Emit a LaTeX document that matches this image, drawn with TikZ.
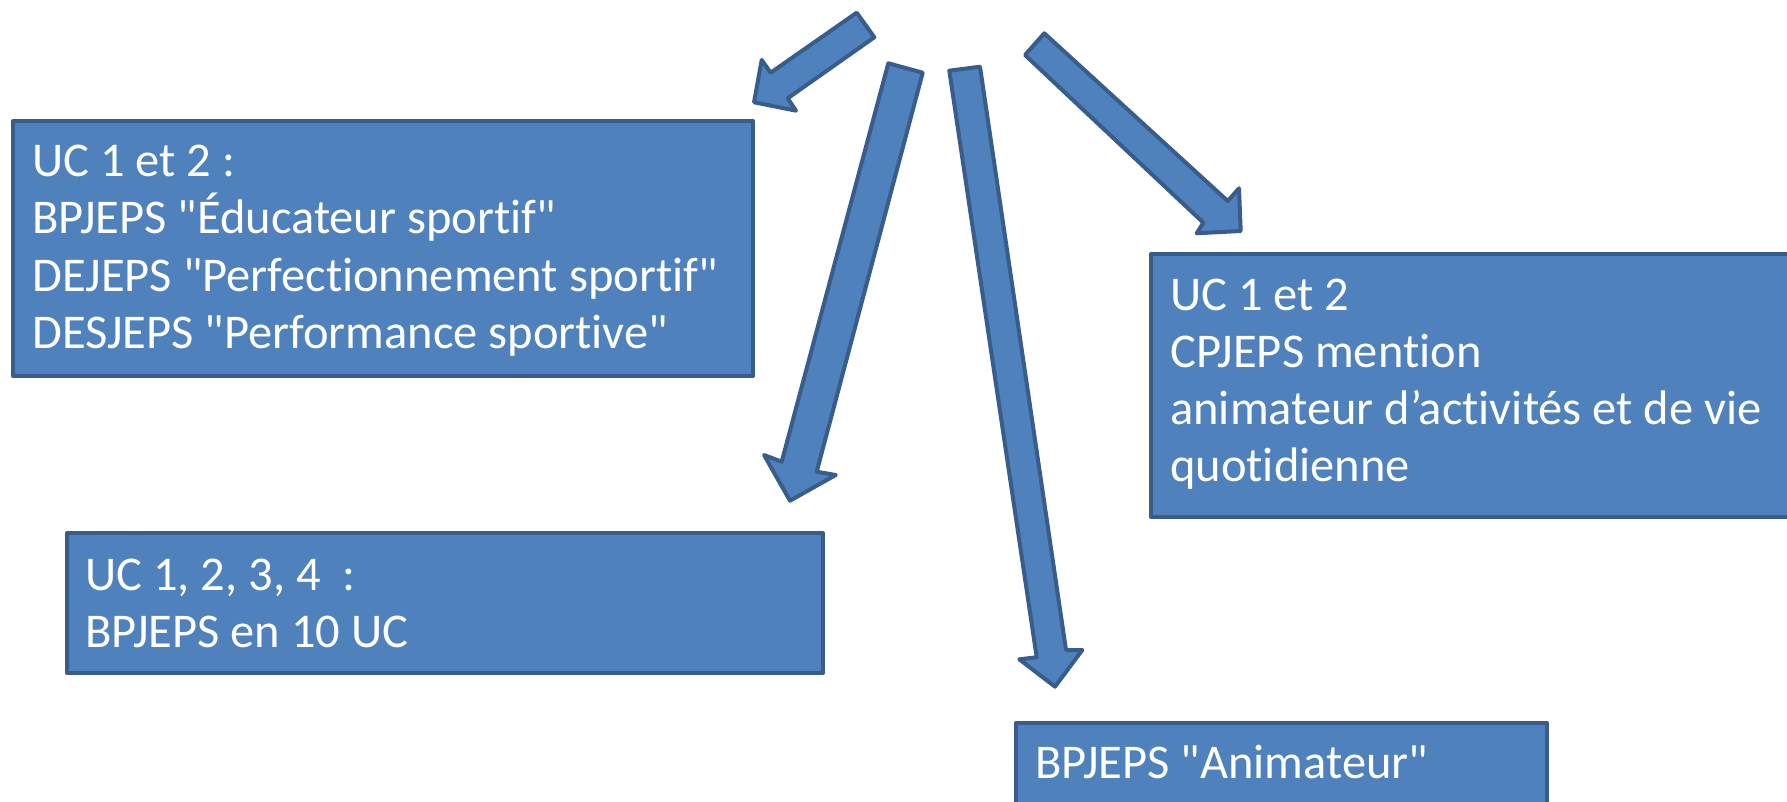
\documentclass[tikz,border=0pt]{standalone}
\usepackage{fontspec}
\setmainfont[Ligatures={NoCommon},Mapping=]{Carlito}
\definecolor{boxfill}{HTML}{4F81BD}
\definecolor{boxline}{HTML}{385D8A}
\newcommand{\dq}{\symbol{34}}
\begin{document}
\begin{tikzpicture}[x=1pt,y=-1pt,
  blk/.style={fill=boxfill,draw=boxline,line width=4pt,line join=round},
  txt/.style={anchor=base west,inner sep=0pt,text=white,font=\fontsize{48.5}{57}\selectfont}]
\useasboundingbox (0,0) rectangle (1787,802);
\clip (0,0) rectangle (1787,802);
% boxes
\node[blk,rectangle,anchor=north west,minimum width=740pt,minimum height=255pt,inner sep=0pt] (b1) at (11,119) {};
\node[blk,rectangle,anchor=north west,minimum width=756pt,minimum height=140pt,inner sep=0pt] (b2) at (65,531) {};
\node[blk,rectangle,anchor=north west,minimum width=660pt,minimum height=263pt,inner sep=0pt] (b3) at (1149,252) {};
\node[blk,rectangle,anchor=north west,minimum width=531pt,minimum height=110pt,inner sep=0pt] (b4) at (1014,721) {};
% texts
\node[txt] (t11) at (32,177) {UC 1 et 2 :};
\node[txt] (t12) at (32,234) {BPJEPS \dq Éducateur sportif\dq};
\node[txt] (t13) at (32,291) {DEJEPS \dq Perfectionnement sportif\dq};
\node[txt] (t14) at (32,348) {DESJEPS \dq Performance sportive\dq};
\node[txt] (t21) at (85,590) {UC 1, 2, 3, 4~ :};
\node[txt] (t22) at (85,647) {BPJEPS en 10 UC};
\node[txt] (t31) at (1170,310) {UC 1 et 2};
\node[txt] (t32) at (1170,367) {CPJEPS mention};
\node[txt] (t33) at (1170,424) {animateur d’activités et de vie};
\node[txt] (t34) at (1170,481) {quotidienne};
\node[txt] (t41) at (1035,778) {BPJEPS \dq Animateur\dq};
% block arrows
\draw[blk] (856.7,12.7) -- (874.3,37.3) -- (787.7,98.3) -- (796,110.7) -- (754,102.3) -- (761.7,60) -- (770.7,72.7) -- cycle;
\draw[blk] (888.3,63.3) -- (922.7,72.7) -- (816.7,471.7) -- (835.7,475) -- (790,500.7) -- (764,455) -- (781.7,461.7) -- cycle;
\draw[blk] (949.3,70.7) -- (980,66.7) -- (1066,650) -- (1082.3,650) -- (1055,686.7) -- (1019.3,659.3) -- (1036.7,657.3) -- cycle;
\draw[blk] (1044.3,33.3) -- (1227.7,201) -- (1239,188.3) -- (1240.7,231) -- (1196.7,233.3) -- (1203.3,222.7) -- (1025,55) -- cycle;
\end{tikzpicture}
\end{document}
